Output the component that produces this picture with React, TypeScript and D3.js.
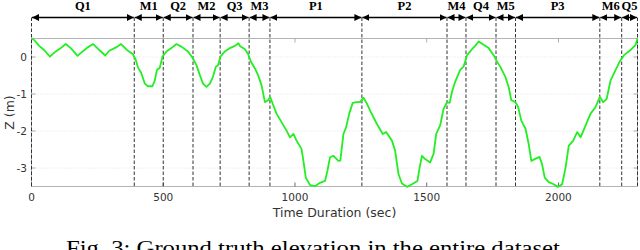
import React from "react";
import * as d3 from "d3";

const times = [0,10,29,48,70,92,111,130,149,175,194,213,234,257,280,295,321,340,362,384,395,404,417,430,442,459,468,476,487,497,512,531,550,569,594,613,626,639,651,664,677,689,700,708,717,734,753,772,785,791,810,822,833,848,860,873,886,898,906,918,930,949,968,981,994,1006,1025,1032,1041,1057,1076,1095,1114,1123,1133,1146,1165,1172,1184,1194,1206,1219,1235,1247,1260,1273,1288,1311,1333,1346,1368,1380,1393,1406,1425,1444,1465,1473,1482,1494,1513,1526,1536,1551,1564,1577,1587,1596,1608,1627,1640,1653,1672,1684,1697,1716,1735,1754,1767,1779,1798,1811,1821,1837,1847,1859,1875,1887,1897,1910,1928,1938,1948,1963,1982,1998,2014,2027,2039,2056,2071,2084,2103,2122,2141,2157,2170,2183,2198,2217,2236,2249,2274,2293,2300];
const elevation = [0.50,0.46,0.30,0.19,0.01,0.15,0.24,0.35,0.24,0.03,0.15,0.26,0.35,0.19,0.04,0.17,0.26,0.35,0.19,0.08,-0.06,-0.28,-0.44,-0.72,-0.79,-0.79,-0.63,-0.35,-0.29,0.01,0.15,0.24,0.35,0.28,0.15,-0.04,-0.22,-0.49,-0.72,-0.81,-0.72,-0.53,-0.26,-0.22,0.01,0.15,0.24,0.30,0.37,0.30,0.21,0.08,-0.13,-0.31,-0.49,-0.76,-1.22,-1.17,-1.08,-1.31,-1.53,-1.76,-1.99,-2.17,-2.08,-2.26,-2.49,-2.81,-3.26,-3.46,-3.49,-3.40,-3.35,-3.08,-2.71,-2.67,-2.81,-2.80,-2.08,-1.90,-1.53,-1.24,-1.22,-1.22,-1.10,-1.26,-1.49,-1.81,-2.08,-2.03,-2.26,-2.53,-3.17,-3.42,-3.51,-3.44,-3.35,-2.99,-2.67,-2.76,-2.85,-2.62,-2.08,-1.85,-1.40,-1.22,-1.24,-0.94,-0.67,-0.35,-0.26,0.05,0.21,0.30,0.42,0.33,0.24,0.05,-0.13,-0.26,-0.53,-0.81,-1.17,-1.22,-1.35,-1.72,-1.94,-2.35,-2.81,-2.76,-2.70,-2.90,-3.26,-3.38,-3.44,-3.51,-3.44,-2.99,-2.40,-2.26,-2.03,-2.17,-1.85,-1.53,-1.35,-1.08,-1.22,-1.13,-0.63,-0.35,-0.08,0.05,0.19,0.33,0.50];

const segmentLabels = ["Q1","M1","Q2","M2","Q3","M3","P1","P2","M4","Q4","M5","P3","M6","Q5"];
const segmentBounds = [0,390,500,613,716,826,905,1254,1577,1649,1763,1837,2157,2240,2300];

const xTicks = [0,500,1000,1500,2000];
const yTicks = [0,-1,-2,-3];

const xLabel = "Time Duration (sec)";
const yLabel = "Z (m)";
const caption = "Fig. 3: Ground truth elevation in the entire dataset.";

export default function App() {
  const L = 31.5, R = 637.5, T = 38.5, B = 186.5;
  const x = d3.scaleLinear().domain([0, 2300]).range([L, R]);
  const y = d3.scaleLinear().domain([-3.5, 0.5]).range([B, T]);
  const data = times.map((t, i) => [t, elevation[i]] as [number, number]);
  const line = d3.line<[number, number]>().x(d => x(d[0])).y(d => y(d[1])).curve(d3.curveLinear);
  const arrowY = 17.5;
  const sans = "'DejaVu Sans', sans-serif";
  const serif = "'Liberation Serif', 'Times New Roman', serif";

  return (
    <svg width={640} height={250} style={{ position: "absolute", left: 0, top: 0, background: "#fff" }}>
      <defs>
        <marker id="ah" viewBox="0 0 10 10" refX={10} refY={5} markerWidth={7} markerHeight={7} markerUnits="userSpaceOnUse" orient="auto-start-reverse">
          <path d="M0,0 L10,5 L0,10 Z" fill="#000" />
        </marker>
      </defs>
      {/* grid */}
      {yTicks.map(v => (
        <line key={"g" + v} x1={L} x2={R} y1={y(v)} y2={y(v)} stroke="#d8d8d8" strokeWidth={0.8} strokeDasharray="1,2" />
      ))}
      {/* box */}
      <rect x={L} y={T} width={R - L} height={B - T} fill="none" stroke="#b4b4b4" strokeWidth={1} />
      {/* ticks */}
      {xTicks.map(v => (
        <g key={"xt" + v}>
          <line x1={x(v)} x2={x(v)} y1={B} y2={B - 4} stroke="#444" strokeWidth={0.8} />
          <line x1={x(v)} x2={x(v)} y1={T} y2={T + 4} stroke="#999" strokeWidth={0.8} />
          <text x={x(v)} y={201} textAnchor="middle" fontFamily={sans} fontSize={10.5} fill="#333">{v}</text>
        </g>
      ))}
      {yTicks.map(v => (
        <g key={"yt" + v}>
          <line x1={L} x2={L + 4} y1={y(v)} y2={y(v)} stroke="#999" strokeWidth={0.8} />
          <line x1={R} x2={R - 4} y1={y(v)} y2={y(v)} stroke="#999" strokeWidth={0.8} />
          <text x={27} y={y(v) + 4} textAnchor="end" fontFamily={sans} fontSize={10.5} fill="#333">{v}</text>
        </g>
      ))}
      <text x={x(1150)} y={216.5} textAnchor="middle" fontFamily={sans} fontSize={12.5} fill="#333">{xLabel}</text>
      <text transform={`translate(13.5, ${y(-1.5)}) rotate(-90)`} textAnchor="middle" fontFamily={sans} fontSize={12.5} fill="#333">{yLabel}</text>
      {/* dashed separators */}
      {segmentBounds.map((v, i) => (
        <line key={"d" + i} x1={x(v)} x2={x(v)} y1={arrowY} y2={B} stroke="#333" strokeWidth={1} strokeDasharray="3.5,2" />
      ))}
      {/* data line */}
      <path d={line(data) || ""} fill="none" stroke="#22ee22" strokeWidth={1.8} strokeLinejoin="round" />
      {/* arrows + labels */}
      {segmentLabels.map((lab, i) => {
        const a = x(segmentBounds[i]), b = x(segmentBounds[i + 1]);
        return (
          <g key={lab}>
            <line x1={a + 0.5} x2={b - 0.5} y1={arrowY} y2={arrowY} stroke="#000" strokeWidth={1.4} markerStart="url(#ah)" markerEnd="url(#ah)" />
            <text x={(a + b) / 2} y={9.5} textAnchor="middle" fontFamily={serif} fontWeight="bold" fontSize={12.5} fill="#000">{lab}</text>
          </g>
        );
      })}
      <text x={66} y={255} fontFamily={serif} fontSize={20} textLength={500} lengthAdjust="spacingAndGlyphs" fill="#000">{caption}</text>
    </svg>
  );
}
